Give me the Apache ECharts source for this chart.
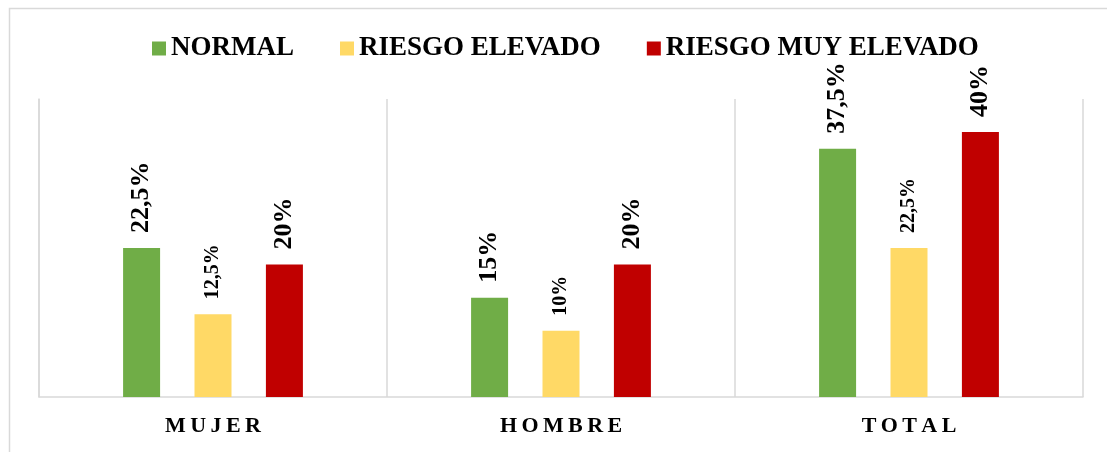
<!DOCTYPE html>
<html>
<head>
<meta charset="utf-8">
<title>Riesgo por sexo</title>
<script src="https://cdn.jsdelivr.net/npm/echarts@6/dist/echarts.min.js"></script>
<style>
  html, body { margin: 0; padding: 0; background: #fff; }
</style>
</head>
<body>
<div id="main" style="width: 1107px;height:452px;"></div>

<script type="text/javascript">
    // datos
    var categorias = ['MUJER', 'HOMBRE', 'TOTAL'];
    var seriesNombres = ['NORMAL', 'RIESGO ELEVADO', 'RIESGO MUY ELEVADO'];
    var normal = [22.5, 15, 37.5];
    var riesgoElevado = [12.5, 10, 22.5];
    var riesgoMuyElevado = [20, 20, 40];

    var fuente = "'Liberation Serif', 'Times New Roman', serif";
    var colores = ['#70AD47', '#FFD966', '#C00000'];

    // 22.5 -> "22,5%"
    function pct(p) {
        return String(p.value).replace('.', ',') + '%';
    }

    function serie(nombre, datos, color, tam) {
        return {
            name: nombre,
            type: 'bar',
            data: datos,
            barWidth: 37,
            barGap: '93%',
            itemStyle: { color: color },
            label: {
                show: true,
                position: 'top',
                distance: 15,
                rotate: 90,
                align: 'left',
                verticalAlign: 'middle',
                formatter: pct,
                fontFamily: fuente,
                fontWeight: 'bold',
                fontSize: tam,
                color: '#000'
            }
        };
    }

    var myChart = echarts.init(document.getElementById('main'));

    var option = {
        animation: false,
        backgroundColor: '#fff',
        // marco exterior
        graphic: [{
            type: 'rect',
            silent: true,
            shape: { x: 9.5, y: 8.5, width: 1300, height: 700 },
            style: { fill: 'none', stroke: '#d9d9d9', lineWidth: 1.5 }
        }],
        legend: {
            data: seriesNombres,
            top: 35,
            left: 152,
            padding: 0,
            icon: 'rect',
            itemWidth: 14,
            itemHeight: 14,
            itemGap: 46,
            textStyle: {
                fontFamily: fuente,
                fontWeight: 'bold',
                fontSize: 27,
                lineHeight: 27,
                color: '#000'
            }
        },
        grid: {
            left: 39,
            right: 24,
            top: 99,
            bottom: 55
        },
        xAxis: {
            type: 'category',
            data: categorias,
            axisLine: { lineStyle: { color: '#d9d9d9', width: 1.5 } },
            axisTick: { show: false },
            splitLine: { show: true, lineStyle: { color: '#d9d9d9', width: 1.5 } },
            axisLabel: {
                margin: 18,
                fontFamily: fuente,
                fontWeight: 'bold',
                fontSize: 22,
                color: '#000',
                // espaciado entre letras
                formatter: function(v) {
                    return v.split('').join('\u2009');
                }
            }
        },
        yAxis: {
            type: 'value',
            min: 0,
            max: 45,
            axisLine: { show: true, lineStyle: { color: '#d9d9d9', width: 1.5 } },
            axisTick: { show: false },
            axisLabel: { show: false },
            splitLine: { show: false }
        },
        series: [
            serie(seriesNombres[0], normal, colores[0], 26),
            serie(seriesNombres[1], riesgoElevado, colores[1], 20),
            serie(seriesNombres[2], riesgoMuyElevado, colores[2], 26)
        ]
    };

    myChart.setOption(option);
</script>
</body>
</html>
